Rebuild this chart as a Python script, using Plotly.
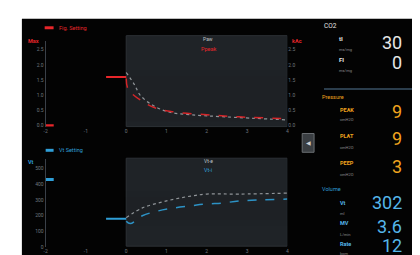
import plotly.graph_objects as go

W, H = 420, 255

# ---------------- data ----------------
x_ticks = [-2, -1, 0, 1, 2, 3, 4]
x_tick_labels = ["-2", "-1", "0", "1", "2", "3", "4"]

p_ticks = [0.0, 0.5, 1.0, 1.5, 2.0, 2.5]
p_tick_labels = ["0.0", "0.5", "1.0", "1.5", "2.0", "2.5"]
p_setting_x = [-0.5, 0.0]
p_setting_y = [1.6, 1.6]
p_marker_x = [-2.0, -1.8]
p_marker_y = [0.0, 0.0]
p_ref_x = [0.0, 0.2, 0.35, 0.65, 1.05, 1.6, 2.45, 4.0]
p_ref_y = [1.75, 1.36, 1.0, 0.68, 0.45, 0.36, 0.29, 0.19]
p_meas_x = [0.0, 0.05, 0.4, 0.8, 1.2, 2.0, 2.8, 4.0]
p_meas_y = [1.55, 1.2, 0.8, 0.55, 0.45, 0.36, 0.29, 0.23]

v_ticks = [0, 100, 200, 300, 400, 500]
v_tick_labels = ["0", "100", "200", "300", "400", "500"]
v_setting_x = [-0.5, 0.0]
v_setting_y = [181, 181]
v_marker_x = [-2.0, -1.8]
v_marker_y = [431, 431]
v_ref_x = [0.0, 0.4, 0.8, 1.2, 1.6, 2.0, 2.8, 4.0]
v_ref_y = [188, 250, 281, 306, 325, 338, 338, 344]
v_meas_x = [0.0, 0.1, 0.4, 0.8, 1.2, 1.6, 2.0, 2.4, 2.8, 4.0]
v_meas_y = [165, 150, 200, 231, 250, 263, 275, 281, 294, 306]

RED = "#e8262a"
ORANGE = "#f0a41e"
BLUE = "#2f9fd8"
LBLUE = "#55b6ea"
WHITE = "#e6e6e6"
TICK = "#6f767d"
GRAYBG = "#1f2327"
FONT = "Roboto"


def fx(x):
    return x / W


def fy(y):
    return 1 - y / H


fig = go.Figure()

# top chart traces
fig.add_trace(go.Scatter(x=p_marker_x, y=p_marker_y, mode="lines",
                         line=dict(color=RED, width=3), xaxis="x", yaxis="y"))
fig.add_trace(go.Scatter(x=p_setting_x, y=p_setting_y, mode="lines",
                         line=dict(color=RED, width=2), xaxis="x", yaxis="y"))
fig.add_trace(go.Scatter(x=p_ref_x, y=p_ref_y, mode="lines", line_shape="spline", opacity=0.75,
                         line=dict(color="#b8bcc0", width=1.2, dash="dot"), xaxis="x", yaxis="y"))
fig.add_trace(go.Scatter(x=p_meas_x, y=p_meas_y, mode="lines", line_shape="spline", opacity=0.9,
                         line=dict(color=RED, width=1.5, dash="dash"), xaxis="x", yaxis="y"))
fig.add_trace(go.Scatter(x=[None], y=[None], xaxis="x", yaxis="y2", showlegend=False))

# bottom chart traces
fig.add_trace(go.Scatter(x=v_marker_x, y=v_marker_y, mode="lines",
                         line=dict(color=BLUE, width=3), xaxis="x2", yaxis="y3"))
fig.add_trace(go.Scatter(x=v_setting_x, y=v_setting_y, mode="lines",
                         line=dict(color=BLUE, width=2), xaxis="x2", yaxis="y3"))
fig.add_trace(go.Scatter(x=v_ref_x, y=v_ref_y, mode="lines", line_shape="spline", opacity=0.75,
                         line=dict(color="#b8bcc0", width=1.2, dash="dot"), xaxis="x2", yaxis="y3"))
fig.add_trace(go.Scatter(x=v_meas_x, y=v_meas_y, mode="lines", line_shape="spline", opacity=0.9,
                         line=dict(color=BLUE, width=1.5, dash="dash"), xaxis="x2", yaxis="y3"))

tickfont = dict(family=FONT, size=5, color=TICK)

shapes = [
    dict(type="rect", xref="paper", yref="paper", x0=fx(12), x1=1, y0=0, y1=fy(11),
         fillcolor="#030303", line_width=0, layer="below"),
    dict(type="rect", xref="x", yref="paper", x0=0, x1=4, y0=fy(120), y1=fy(28),
         fillcolor=GRAYBG, line=dict(color="#2c3136", width=1), layer="below"),
    dict(type="rect", xref="x2", yref="paper", x0=0, x1=4, y0=fy(241), y1=fy(152),
         fillcolor=GRAYBG, line=dict(color="#2c3136", width=1), layer="below"),
    dict(type="rect", xref="paper", yref="paper", x0=fx(35), x1=fx(44), y0=fy(21.5), y1=fy(18.5),
         fillcolor=RED, line_width=0),
    dict(type="rect", xref="paper", yref="paper", x0=fx(36), x1=fx(44), y0=fy(145.5), y1=fy(142.5),
         fillcolor=BLUE, line_width=0),
    dict(type="line", xref="paper", yref="paper", x0=fx(317), x1=1, y0=fy(82), y1=fy(82),
         line=dict(color="#2b3d4c", width=2)),
    dict(type="rect", xref="paper", yref="paper", x0=fx(295), x1=fx(307), y0=fy(146), y1=fy(127),
         fillcolor="#3a3e42", line=dict(color="#6a6e72", width=1)),
]

ann = []


def T(x, y, text, size, color, xanchor="left", bold=False):
    ann.append(dict(x=fx(x), y=fy(y), xref="paper", yref="paper", text=("<b>%s</b>" % text) if bold else text,
                    showarrow=False, xanchor=xanchor, yanchor="middle",
                    font=dict(family=FONT, size=size, color=color)))


def BIG(y, text, color):
    T(398, y - 3, text, 18, color, xanchor="right")


T(47, 20, "Fig. Setting", 5.5, RED)
T(16, 33, "Max", 5.5, RED, bold=True)
T(283, 33, "kAc", 5.5, RED, bold=True)
T(200, 31, "Paw", 5, "#bfc3c7", xanchor="center")
T(200, 41, "Ppeak", 5.5, RED, xanchor="center")
T(47, 144, "Vt Setting", 5.5, BLUE)
T(16, 156, "Vt", 5.5, BLUE, bold=True)
T(200, 155, "Vt-e", 5, "#bfc3c7", xanchor="center")
T(200, 164, "Vt-i", 5.5, BLUE, xanchor="center")
T(301, 136.5, "◀", 6, "#d0d0d0", xanchor="center")

UNIT = "#8a8a8a"
T(315, 18, "CO2", 6.5, WHITE)
T(330, 31, "tI", 6, WHITE, bold=True)
T(330, 42, "ms/mg", 4, UNIT)
BIG(37.5, "30", WHITE)
T(405, 33, "ms", 4, UNIT)
T(405, 41, "%", 4, UNIT)
T(330, 52, "FI", 6, WHITE, bold=True)
T(330, 63, "ms/mg", 4, UNIT)
BIG(58, "0", WHITE)
T(405, 56, "%", 4, UNIT)

T(313, 90, "Pressure", 5.5, ORANGE)
T(331, 103, "PEAK", 5.5, ORANGE, bold=True)
T(331, 113, "cmH2O", 4, UNIT)
BIG(108, "9", ORANGE)
T(405, 104, "cm", 4, UNIT)
T(331, 130, "PLAT", 5.5, ORANGE, bold=True)
T(331, 141, "cmH2O", 4, UNIT)
BIG(135, "9", ORANGE)
T(405, 131, "cm", 4, UNIT)
T(331, 157, "PEEP", 5.5, ORANGE, bold=True)
T(331, 168, "cmH2O", 4, UNIT)
BIG(163, "3", ORANGE)
T(405, 159, "cm", 4, UNIT)

T(313, 183, "Volume", 5.5, BLUE)
T(331, 197, "Vt", 5.5, LBLUE, bold=True)
T(331, 208, "ml", 4, UNIT)
BIG(200, "302", LBLUE)
T(405, 196, "ml", 4, UNIT)
T(405, 204, "5", 4, UNIT)
T(331, 218, "MV", 5.5, LBLUE, bold=True)
T(331, 229, "L/min", 4, UNIT)
BIG(224, "3.6", LBLUE)
T(405, 220, "L/m", 4, UNIT)
T(405, 228, "2.5", 4, UNIT)
T(331, 239, "Rate", 5.5, LBLUE, bold=True)
T(331, 248, "bpm", 4, UNIT)
BIG(243, "12", LBLUE)
T(405, 240, "bpm", 4, UNIT)

axis_common = dict(showgrid=False, zeroline=False, tickfont=tickfont, ticks="",
                   showline=False, fixedrange=True)

fig.update_layout(
    width=W, height=H, margin=dict(l=0, r=0, t=0, b=0),
    paper_bgcolor="white", plot_bgcolor="rgba(0,0,0,0)", showlegend=False,
    xaxis=dict(domain=[fx(36), fx(280)], range=[-2, 4], anchor="y",
               tickvals=x_ticks, ticktext=x_tick_labels, **axis_common),
    yaxis=dict(domain=[fy(120), fy(33)], range=[-0.03, 2.8], anchor="x",
               tickvals=p_ticks, ticktext=p_tick_labels, **dict(axis_common, showline=True),
               linecolor="#3a4048", linewidth=1),
    yaxis2=dict(overlaying="y", side="right", anchor="x", matches="y",
                tickvals=p_ticks, ticktext=p_tick_labels, **axis_common),
    xaxis2=dict(domain=[fx(36), fx(280)], range=[-2, 4], anchor="y3",
                tickvals=x_ticks, ticktext=x_tick_labels, **axis_common),
    yaxis3=dict(domain=[fy(242), fy(153)], range=[0, 560], anchor="x2",
                tickvals=v_ticks, ticktext=v_tick_labels, **dict(axis_common, showline=True),
                linecolor="#3a4048", linewidth=1),
    shapes=shapes, annotations=ann,
)

fig.write_html("out.html")
